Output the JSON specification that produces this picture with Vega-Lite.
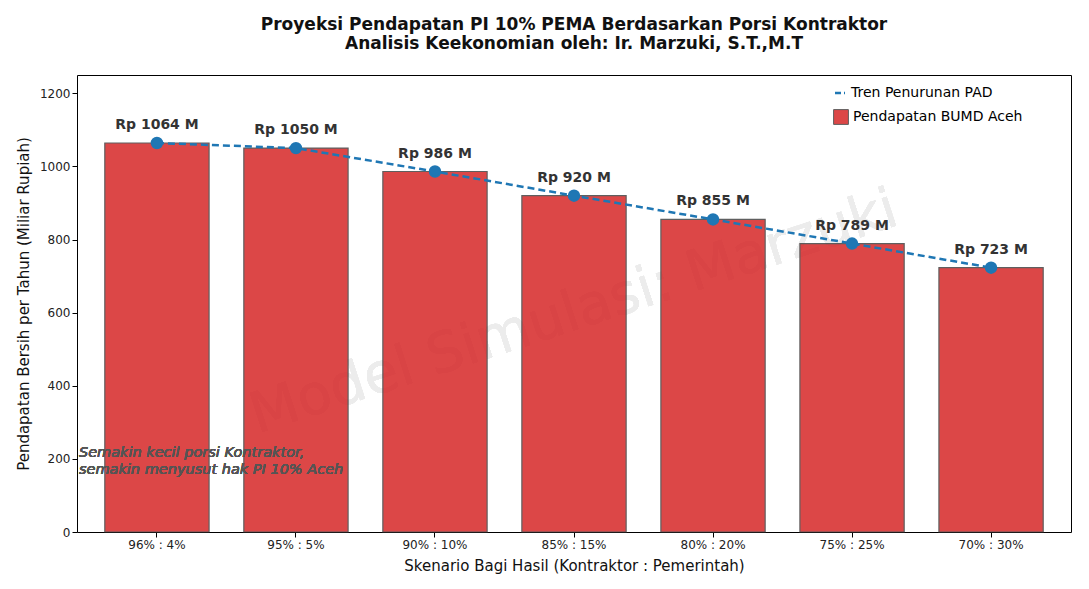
{
"$schema":"https://vega.github.io/schema/vega-lite/v6.json",
"width":994,"height":457,
"background":"white",
"padding":{"left":16,"top":16,"right":6,"bottom":8},
"title":{"text":["Proyeksi Pendapatan PI 10% PEMA Berdasarkan Porsi Kontraktor","Analisis Keekonomian oleh: Ir. Marzuki, S.T.,M.T"],"font":"DejaVu Sans","fontSize":17,"fontWeight":"bold","color":"#111","offset":22},
"config":{"font":"DejaVu Sans","view":{"stroke":"black"},"axis":{"labelFont":"DejaVu Sans","titleFont":"DejaVu Sans","labelFontSize":12,"titleFontSize":15,"titleFontWeight":"normal","labelColor":"#222","titleColor":"#111","tickColor":"black","domain":false,"titlePadding":8}},
"data":{"values":[
{"s":"96% : 4%","v":1064,"l":"Rp 1064 M"},
{"s":"95% : 5%","v":1050,"l":"Rp 1050 M"},
{"s":"90% : 10%","v":986,"l":"Rp 986 M"},
{"s":"85% : 15%","v":920,"l":"Rp 920 M"},
{"s":"80% : 20%","v":855,"l":"Rp 855 M"},
{"s":"75% : 25%","v":789,"l":"Rp 789 M"},
{"s":"70% : 30%","v":723,"l":"Rp 723 M"}]},
"encoding":{"x":{"field":"s","type":"nominal","sort":null,"title":"Skenario Bagi Hasil (Kontraktor : Pemerintah)","scale":{"domain":["96% : 4%","95% : 5%","90% : 10%","85% : 15%","80% : 20%","75% : 25%","70% : 30%"],"paddingInner":0.25,"paddingOuter":0.2},"axis":{"labelAngle":0,"grid":false}}},
"layer":[
{"mark":{"type":"text","angle":-18,"fontSize":56,"fill":"#ececec","text":"Model Simulasi: Marzuki"},
 "encoding":{"x":{"datum":"85% : 15%"},"y":{"datum":600,"type":"quantitative"}}},
{"mark":{"type":"bar","stroke":"#444","strokeWidth":1.2,"opacity":0.85},
 "encoding":{"y":{"field":"v","type":"quantitative","scale":{"domain":[0,1250],"nice":false},"title":"Pendapatan Bersih per Tahun (Miliar Rupiah)","axis":{"values":[0,200,400,600,800,1000,1200],"format":"d","gridDash":[4,3],"gridColor":"#ddd"}},
 "color":{"datum":"Pendapatan BUMD Aceh","type":"nominal","scale":{"range":["#d62728"]},"legend":{"title":null,"orient":"none","legendX":756,"legendY":34,"labelFontSize":14,"symbolType":"square","symbolSize":220,"symbolStrokeColor":"#444","symbolStrokeWidth":1,"symbolOpacity":0.85,"labelLimit":300}}}},
{"mark":{"type":"line","strokeDash":[7,4],"strokeWidth":2.5,"color":"#1f77b4","point":{"filled":true,"size":110,"color":"#1f77b4"}},
 "encoding":{"y":{"field":"v","type":"quantitative"},
 "stroke":{"datum":"Tren Penurunan PAD","type":"nominal","scale":{"range":["#1f77b4"]},"legend":{"title":null,"orient":"none","legendX":756,"legendY":11,"labelFontSize":14,"symbolType":"stroke","symbolDash":[6,3],"symbolStrokeWidth":2.5,"labelLimit":300}}}},
{"mark":{"type":"text","dy":-18,"fontSize":14,"fontWeight":"bold","color":"#333"},
 "encoding":{"y":{"field":"v","type":"quantitative"},"text":{"field":"l"}}},
{"mark":{"type":"text","align":"left","fontSize":14.5,"fontStyle":"italic","color":"#555","xOffset":-78,"text":["Semakin kecil porsi Kontraktor,","semakin menyusut hak PI 10% Aceh"]},
 "encoding":{"x":{"datum":"96% : 4%"},"y":{"datum":215,"type":"quantitative"}}}
]}
